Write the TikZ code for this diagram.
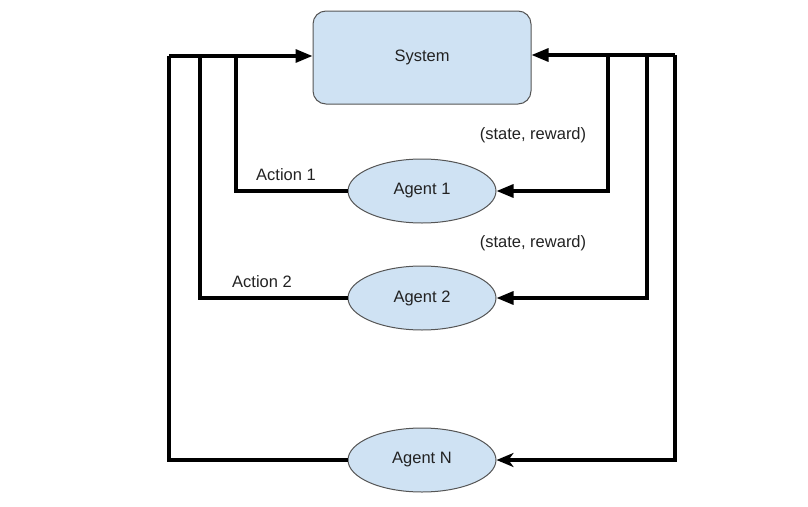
\documentclass[tikz,border=0pt]{standalone}
\usepackage{fontspec}
\setmainfont{Liberation Sans}
\usetikzlibrary{shapes.geometric,arrows.meta}
\definecolor{boxblue}{HTML}{CFE2F3}
\definecolor{edgegray}{HTML}{555555}
\definecolor{txt}{HTML}{222222}
\begin{document}
\begin{tikzpicture}[x=1pt,y=-1pt,
  every node/.style={font=\fontsize{16.5}{19}\selectfont,text=txt},
  sysbox/.style={draw=edgegray,line width=1pt,fill=boxblue,rounded corners=13pt,minimum width=218pt,minimum height=93pt},
  agent/.style={draw=edgegray,line width=1pt,fill=boxblue,ellipse,minimum width=148pt,minimum height=64pt,inner sep=0pt},
  wire/.style={line width=3.2pt},
  tri/.style={-{Triangle[length=17pt,width=13pt]}},
  stl/.style={-{Stealth[length=17pt,width=14pt,inset=5pt]}},
  lbl/.style={inner sep=0pt}]
\useasboundingbox (0,0) rectangle (808,506);
\node[sysbox] (sys) at (422,57.5) {System};
\node[agent] (a1) at (422,191) {Agent 1};
\node[agent] (a2) at (422,298) {Agent 2};
\node[agent] (an) at (422,460) {Agent N};
\coordinate (lt) at (169,56);
\coordinate (l1) at (236,56);
\coordinate (l2) at (200,56);
\coordinate (rt) at (675,55);
\coordinate (r1) at (608,55);
\coordinate (r2) at (647,55);
\draw[wire,tri] (lt) -- (sys.west |- lt);
\draw[wire,tri] (rt) -- (sys.east |- rt);
\draw[wire] (a1.west) -- (236,191) -- (l1);
\draw[wire] (a2.west) -- (200,298) -- (l2);
\draw[wire] (an.west) -- (169,460) -- (lt);
\draw[wire,tri] (r1) -- (608,191) -- (a1.east);
\draw[wire,tri] (r2) -- (647,298) -- (a2.east);
\draw[wire,stl] (rt) -- (675,460) -- (an.east);
\node[lbl] (act1) at (286,175) {Action 1};
\node[lbl] (act2) at (262,282) {Action 2};
\node[lbl] (sr1) at (533,135) {(state, reward)};
\node[lbl] (sr2) at (533,243) {(state, reward)};
\end{tikzpicture}
\end{document}
